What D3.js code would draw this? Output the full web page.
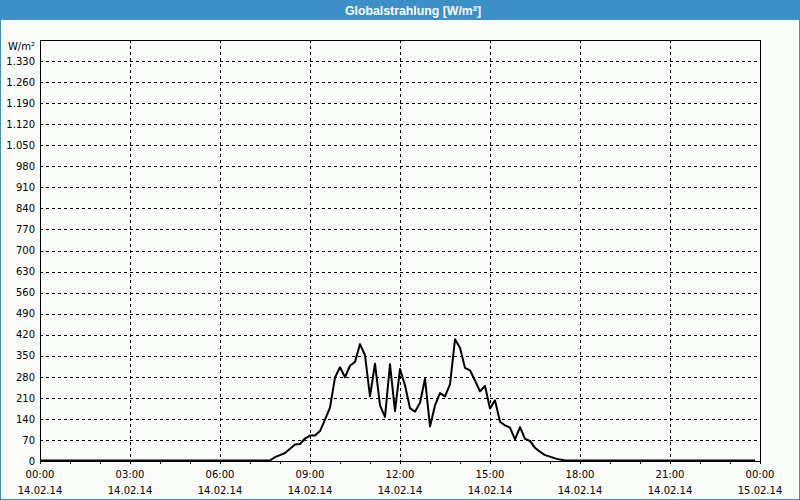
<!DOCTYPE html>
<html><head><meta charset="utf-8">
<script src="https://cdn.jsdelivr.net/npm/d3@7/dist/d3.min.js"></script>
<style>html,body{margin:0;padding:0;background:#fff;}svg{display:block;}</style>
</head><body>
<script>
const title = "Globalstrahlung [W/m²]";
const unitLabel = "W/m²";
const times = ["00:00","07:30","07:40","07:50","08:00","08:10","08:20","08:30","08:40","08:50","09:00","09:10","09:20","09:30","09:40","09:50","10:00","10:10","10:20","10:30","10:40","10:50","11:00","11:10","11:20","11:30","11:40","11:50","12:00","12:10","12:20","12:30","12:40","12:50","13:00","13:10","13:20","13:30","13:40","13:50","14:00","14:10","14:20","14:30","14:40","14:50","15:00","15:10","15:20","15:30","15:40","15:50","16:00","16:10","16:20","16:30","16:40","16:50","17:00","17:10","17:20","17:30","23:50"];
const values = [0,0,0,11,18,25,39,53,55,73,83,83,98,136,176,276,310,277,315,328,387,350,213,322,183,145,320,164,304,250,174,162,192,272,113,183,224,213,253,403,375,308,300,266,230,248,173,200,129,117,109,70,111,72,65,42,29,18,13,7,3,0,0];
const yTicks = [0,70,140,210,280,350,420,490,560,630,700,770,840,910,980,1050,1120,1190,1260,1330];
const xTickHours = [0,3,6,9,12,15,18,21,24];
const xTimeLabels = ["00:00","03:00","06:00","09:00","12:00","15:00","18:00","21:00","00:00"];
const xDateLabels = ["14.02.14","14.02.14","14.02.14","14.02.14","14.02.14","14.02.14","14.02.14","14.02.14","15.02.14"];
const hourTicks = d3.range(0,25);

const W=800,H=500, L=40,R=760,T=40,B=461;
const blue="#3c8fc7", bg="#fafcfa";
const font="'DejaVu Sans', Verdana, sans-serif";
const svg=d3.select("body").append("svg").attr("width",W).attr("height",H);
svg.append("rect").attr("width",W).attr("height",H).attr("fill",bg);
svg.append("rect").attr("x",0.5).attr("y",0.5).attr("width",W-1).attr("height",H-1).attr("fill","none").attr("stroke",blue);
svg.append("rect").attr("x",0).attr("y",0).attr("width",W).attr("height",20).attr("fill",blue);
svg.append("text").attr("x",413).attr("y",15).attr("text-anchor","middle").attr("fill","#fff")
  .attr("font-family","'Liberation Sans',sans-serif").attr("font-weight","bold").attr("font-size",12)
  .attr("textLength",136).attr("lengthAdjust","spacingAndGlyphs").text(title);

const x=d3.scaleLinear().domain([0,24]).range([L,R]);
const y=d3.scaleLinear().domain([0,1400]).range([B,T]);
const fmt=d3.formatLocale({decimal:",",thousands:".",grouping:[3],currency:["",""]}).format(",d");
const toH=s=>{const [h,m]=s.split(":").map(Number);return h+m/60;};

// grid
const g=svg.append("g");
g.selectAll(".hg").data(yTicks.filter(v=>v>0)).enter().append("line")
  .attr("x1",L).attr("x2",R).attr("y1",d=>Math.round(y(d))+0.5).attr("y2",d=>Math.round(y(d))+0.5)
  .attr("stroke","#000").attr("stroke-dasharray","3,3").attr("shape-rendering","crispEdges");
g.selectAll(".vg").data(xTickHours.slice(1,-1)).enter().append("line")
  .attr("y1",T).attr("y2",B).attr("x1",d=>Math.round(x(d))+0.5).attr("x2",d=>Math.round(x(d))+0.5)
  .attr("stroke","#000").attr("stroke-dasharray","3,3").attr("shape-rendering","crispEdges");

// hourly ticks via axis
const xa=svg.append("g").attr("transform",`translate(0,${B})`)
  .call(d3.axisBottom(x).tickValues(hourTicks).tickSize(3).tickSizeOuter(0).tickFormat(""));
xa.select(".domain").remove();
xa.selectAll("line").attr("stroke","#000").attr("shape-rendering","crispEdges");

// frame
svg.append("rect").attr("x",L+0.5).attr("y",T+0.5).attr("width",R-L).attr("height",B-T)
  .attr("fill","none").attr("stroke","#000").attr("shape-rendering","crispEdges");

// y labels
const ya=svg.append("g").attr("transform",`translate(${L-5},0)`)
  .call(d3.axisLeft(y).tickValues(yTicks).tickSize(0).tickPadding(0).tickFormat(fmt));
ya.select(".domain").remove();
ya.selectAll("text").attr("font-family",font).attr("font-size",10).attr("fill","#000");
svg.append("text").attr("x",L-5).attr("y",46).attr("dy","0.35em").attr("text-anchor","end")
  .attr("font-family",font).attr("font-size",10).text(unitLabel);

// x labels
const xl=svg.append("g");
xl.selectAll(".t").data(xTickHours).enter().append("text")
  .attr("x",d=>x(d)).attr("y",474).attr("dy","0.35em").attr("text-anchor","middle")
  .attr("font-family",font).attr("font-size",10).text((d,i)=>xTimeLabels[i]);
xl.selectAll(".d").data(xTickHours).enter().append("text")
  .attr("x",d=>x(d)).attr("y",490).attr("dy","0.35em").attr("text-anchor","middle")
  .attr("font-family",font).attr("font-size",10).text((d,i)=>xDateLabels[i]);

// data line
const data=times.map((t,i)=>({h:toH(t),v:values[i]}));
svg.append("path").datum(data).attr("fill","none").attr("stroke","#000").attr("stroke-width",2)
  .attr("stroke-linejoin","round")
  .attr("d",d3.line().x(d=>x(d.h)).y(d=>y(d.v)-0.5));
</script>
</body></html>
